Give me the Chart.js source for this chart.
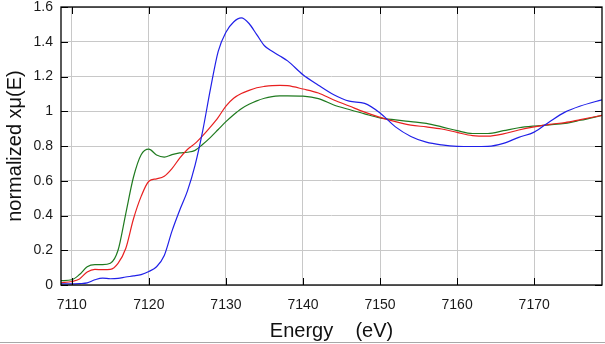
<!DOCTYPE html>
<html>
<head>
<meta charset="utf-8">
<script src="https://cdn.jsdelivr.net/npm/chart.js@4"></script>
<style>
  body { margin: 0; background: #fff; }
  #wrap { position: relative; width: 605px; height: 344px; }
  #edge { position: absolute; left: 0; top: 342px; width: 605px; height: 1px; background: #a8a8a8; }
</style>
</head>
<body>
<div id="wrap">
  <canvas id="xanes" width="605" height="344"></canvas>
  <div id="edge"></div>
</div>
<script>
// energy grid (eV)
const energy = [7108.6, 7110, 7111, 7112, 7113, 7114, 7115, 7116, 7117, 7118, 7119, 7120,
  7121, 7122, 7123, 7124, 7125, 7126, 7127, 7128, 7129, 7130, 7131, 7132, 7133, 7134,
  7135, 7136, 7137, 7138, 7140, 7142, 7144, 7146, 7148, 7150, 7152, 7154, 7156, 7158,
  7160, 7162, 7164, 7166, 7168, 7170, 7172, 7174, 7176, 7178.8];

const blueMu = [0.006, 0.006, 0.008, 0.012, 0.03, 0.04, 0.036, 0.038, 0.046, 0.052, 0.06, 0.078,
  0.105, 0.17, 0.31, 0.43, 0.54, 0.69, 0.89, 1.13, 1.345, 1.455, 1.514, 1.537, 1.505, 1.441,
  1.377, 1.345, 1.318, 1.29, 1.21, 1.15, 1.095, 1.058, 1.045, 0.99, 0.91, 0.855, 0.822, 0.806,
  0.798, 0.797, 0.798, 0.815, 0.85, 0.88, 0.94, 0.995, 1.03, 1.066];

const redMu = [0.013, 0.02, 0.035, 0.075, 0.09, 0.088, 0.09, 0.125, 0.21, 0.38, 0.51, 0.597,
  0.611, 0.626, 0.67, 0.73, 0.78, 0.815, 0.86, 0.91, 0.965, 1.03, 1.075, 1.102, 1.12, 1.135,
  1.143, 1.148, 1.149, 1.147, 1.128, 1.105, 1.065, 1.03, 0.995, 0.965, 0.94, 0.92, 0.91, 0.898,
  0.878, 0.86, 0.857, 0.87, 0.892, 0.91, 0.925, 0.935, 0.952, 0.976];

const greenMu = [0.025, 0.03, 0.06, 0.105, 0.117, 0.117, 0.125, 0.2, 0.41, 0.62, 0.75, 0.782,
  0.748, 0.736, 0.75, 0.76, 0.764, 0.775, 0.81, 0.85, 0.895, 0.94, 0.98, 1.015, 1.04, 1.06,
  1.075, 1.084, 1.088, 1.089, 1.087, 1.073, 1.036, 1.01, 0.985, 0.962, 0.95, 0.94, 0.93, 0.91,
  0.888, 0.872, 0.872, 0.888, 0.905, 0.915, 0.922, 0.93, 0.948, 0.976];

const xTicks = [7110, 7120, 7130, 7140, 7150, 7160, 7170];
const yTicks = [0, 0.2, 0.4, 0.6, 0.8, 1, 1.2, 1.4, 1.6];

function pts(vals) {
    return energy.map((e, i) => ({ x: e, y: vals[i] }));
}

// black frame + inward ticks on all four sides
const frame = {
    id: 'frame',
    afterDatasetsDraw(chart) {
        const { ctx, chartArea: a, scales } = chart;
        ctx.save();
        ctx.strokeStyle = '#000';
        ctx.lineWidth = 1.3;
        ctx.strokeRect(a.left, a.top, a.right - a.left, a.bottom - a.top);
        ctx.beginPath();
        xTicks.forEach(v => {
            const px = Math.round(scales.x.getPixelForValue(v)) + 0.5;
            ctx.moveTo(px, a.bottom); ctx.lineTo(px, a.bottom - 7);
            ctx.moveTo(px, a.top); ctx.lineTo(px, a.top + 7);
        });
        yTicks.forEach(v => {
            const py = Math.round(scales.y.getPixelForValue(v)) + 0.5;
            ctx.moveTo(a.left, py); ctx.lineTo(a.left + 7, py);
            ctx.moveTo(a.right, py); ctx.lineTo(a.right - 7, py);
        });
        ctx.lineWidth = 1;
        ctx.stroke();
        ctx.restore();
    }
};

const line = (label, vals, color) => ({
    label, data: pts(vals), borderColor: color, borderWidth: 1.2,
    pointRadius: 0, fill: false, cubicInterpolationMode: 'monotone'
});

new Chart(document.getElementById('xanes').getContext('2d'), {
    type: 'line',
    data: {
        datasets: [
            line('blue', blueMu, '#2020e8'),
            line('red', redMu, '#e82020'),
            line('green', greenMu, '#1f7a1f')
        ]
    },
    options: {
        responsive: false,
        animation: false,
        layout: { padding: { top: 0, right: 3, left: 0, bottom: 0 } },
        plugins: { legend: { display: false }, tooltip: { enabled: false } },
        scales: {
            x: {
                type: 'linear', min: 7108.6, max: 7178.8,
                afterBuildTicks: s => { s.ticks = xTicks.map(v => ({ value: v })); },
                afterFit: s => { s.height = 59; },
                grid: { color: '#c8c8c8', drawTicks: false },
                border: { display: false },
                ticks: { padding: 12, color: '#1a1a1a', font: { family: 'Liberation Sans', size: 14 },
                    maxRotation: 0, callback: v => String(v) },
                title: { display: true, text: 'Energy    (eV)', color: '#111',
                    font: { family: 'Liberation Sans', size: 20, lineHeight: 1.2 }, padding: { top: 0, bottom: 1 } }
            },
            y: {
                min: 0, max: 1.6,
                afterBuildTicks: s => { s.ticks = yTicks.map(v => ({ value: v })); },
                afterFit: s => { s.width = 61; s.paddingTop = 7; s.paddingBottom = 0; },
                grid: { color: '#c8c8c8', drawTicks: false },
                border: { display: false },
                ticks: { padding: 8, color: '#1a1a1a', font: { family: 'Liberation Sans', size: 14 },
                    callback: v => String(Number(v.toFixed(1))) },
                title: { display: true, text: 'normalized xμ(E)', color: '#111',
                    font: { family: 'Liberation Sans', size: 20, lineHeight: 1.2 }, padding: { top: 3, bottom: 0 } }
            }
        }
    },
    plugins: [frame]
});
</script>
</body>
</html>
